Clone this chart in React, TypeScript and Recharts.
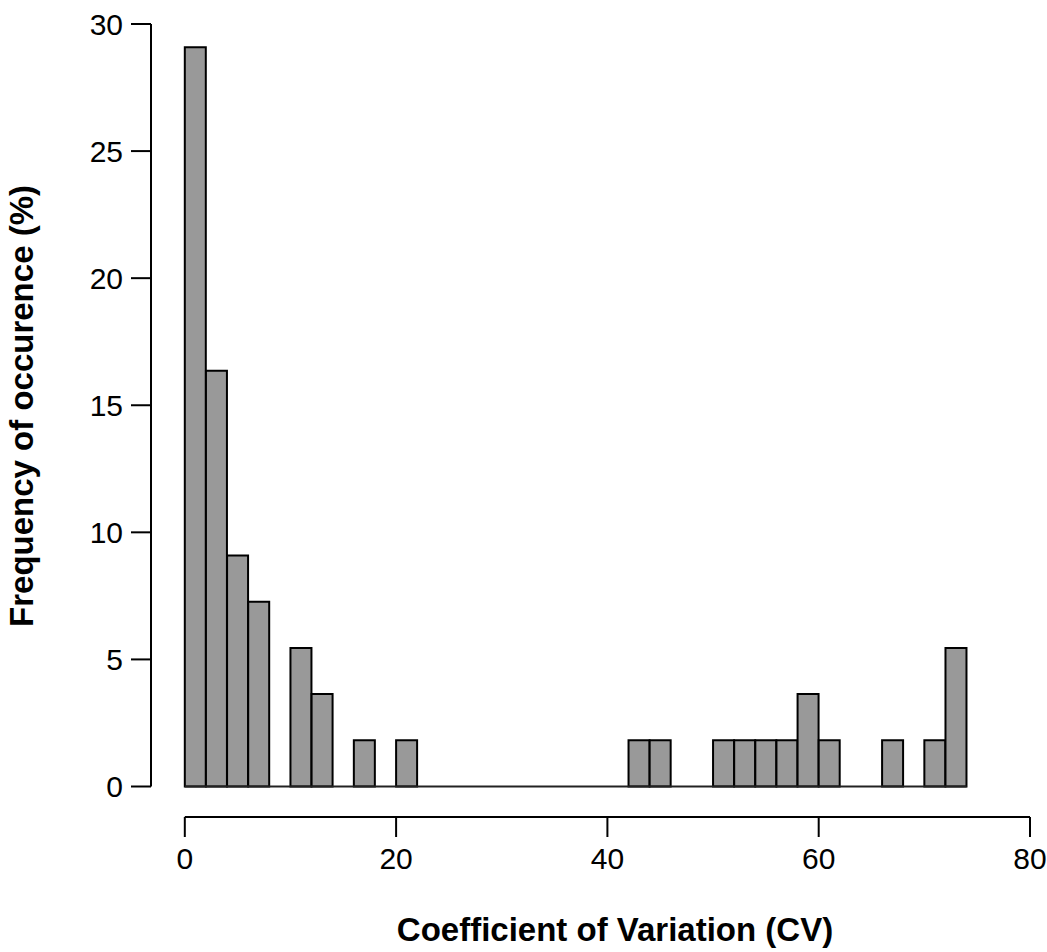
import { ComposedChart, Bar, XAxis, YAxis, ReferenceLine, Label } from 'recharts';

// Histogram bins (width 2) - midpoints and % of occurrence
const binMids = [
    1, 3, 5, 7, 9, 11, 13, 15, 17, 19, 21, 23, 25, 27, 29, 31, 33, 35, 37,
    39, 41, 43, 45, 47, 49, 51, 53, 55, 57, 59, 61, 63, 65, 67, 69, 71, 73,
];
const frequency = [
    29.09, 16.36, 9.09, 7.27, 0, 5.45, 3.64, 0, 1.82, 0, 1.82, 0, 0, 0, 0,
    0, 0, 0, 0, 0, 0, 1.82, 1.82, 0, 0, 1.82, 1.82, 1.82, 1.82, 3.64, 1.82,
    0, 0, 1.82, 0, 1.82, 5.45,
];
const binEdges = [0, 74];
const xTicks = [0, 20, 40, 60, 80];
const yTicks = [0, 5, 10, 15, 20, 25, 30];

const data = binMids.map((mid, i) => ({ mid, value: frequency[i] }));

const FONT = '"Liberation Sans", Arial, Helvetica, sans-serif';

// R-style plot region: axes extend 4% past the data range
const X_DOMAIN: [number, number] = [-3.2, 80];
const Y_DOMAIN: [number, number] = [-1.2, 30];

export default function App() {
    return (
        <div style={{ position: 'absolute', left: 0, top: 0 }}>
            <ComposedChart
                width={1047}
                height={952}
                data={data}
                margin={{ top: 24, right: 17, bottom: 75, left: 71 }}
                barCategoryGap={0}
                barGap={0}
            >
                <XAxis
                    dataKey="mid"
                    type="number"
                    domain={X_DOMAIN}
                    ticks={xTicks}
                    allowDataOverflow
                    height={60}
                    axisLine={false}
                    tickLine={{ stroke: '#000', strokeWidth: 2 }}
                    tickSize={20}
                    tickMargin={11}
                    tick={{ fill: '#000', fontSize: 30, fontFamily: FONT }}
                >
                    <Label
                        content={() => (
                            <text
                                x={615}
                                y={941}
                                textAnchor="middle"
                                fontFamily={FONT}
                                fontSize={33}
                                fontWeight="bold"
                                fill="#000"
                            >
                                Coefficient of Variation (CV)
                            </text>
                        )}
                    />
                </XAxis>
                <YAxis
                    type="number"
                    domain={Y_DOMAIN}
                    ticks={yTicks}
                    allowDataOverflow
                    width={80}
                    axisLine={false}
                    tickLine={{ stroke: '#000', strokeWidth: 2 }}
                    tickSize={20}
                    tickMargin={8}
                    tick={{ fill: '#000', fontSize: 30, fontFamily: FONT }}
                >
                    <Label
                        content={() => (
                            <text
                                x={33}
                                y={406}
                                transform="rotate(-90 33 406)"
                                textAnchor="middle"
                                fontFamily={FONT}
                                fontSize={33}
                                fontWeight="bold"
                                fill="#000"
                            >
                                Frequency of occurence (%)
                            </text>
                        )}
                    />
                </YAxis>

                {/* zero-height bins drawn as a baseline, like R's hist */}
                <ReferenceLine
                    segment={[
                        { x: binEdges[0], y: 0 },
                        { x: binEdges[1], y: 0 },
                    ]}
                    stroke="#222"
                    strokeWidth={2}
                    ifOverflow="visible"
                />

                <Bar
                    dataKey="value"
                    fill="#999999"
                    stroke="#000"
                    strokeWidth={2}
                    isAnimationActive={false}
                />

                {/* detached R-style axis lines */}
                <ReferenceLine
                    segment={[
                        { x: xTicks[0], y: Y_DOMAIN[0] },
                        { x: xTicks[xTicks.length - 1], y: Y_DOMAIN[0] },
                    ]}
                    stroke="#000"
                    strokeWidth={2}
                    ifOverflow="visible"
                />
                <ReferenceLine
                    segment={[
                        { x: X_DOMAIN[0], y: yTicks[0] },
                        { x: X_DOMAIN[0], y: yTicks[yTicks.length - 1] },
                    ]}
                    stroke="#000"
                    strokeWidth={2}
                    ifOverflow="visible"
                />
            </ComposedChart>
        </div>
    );
}
